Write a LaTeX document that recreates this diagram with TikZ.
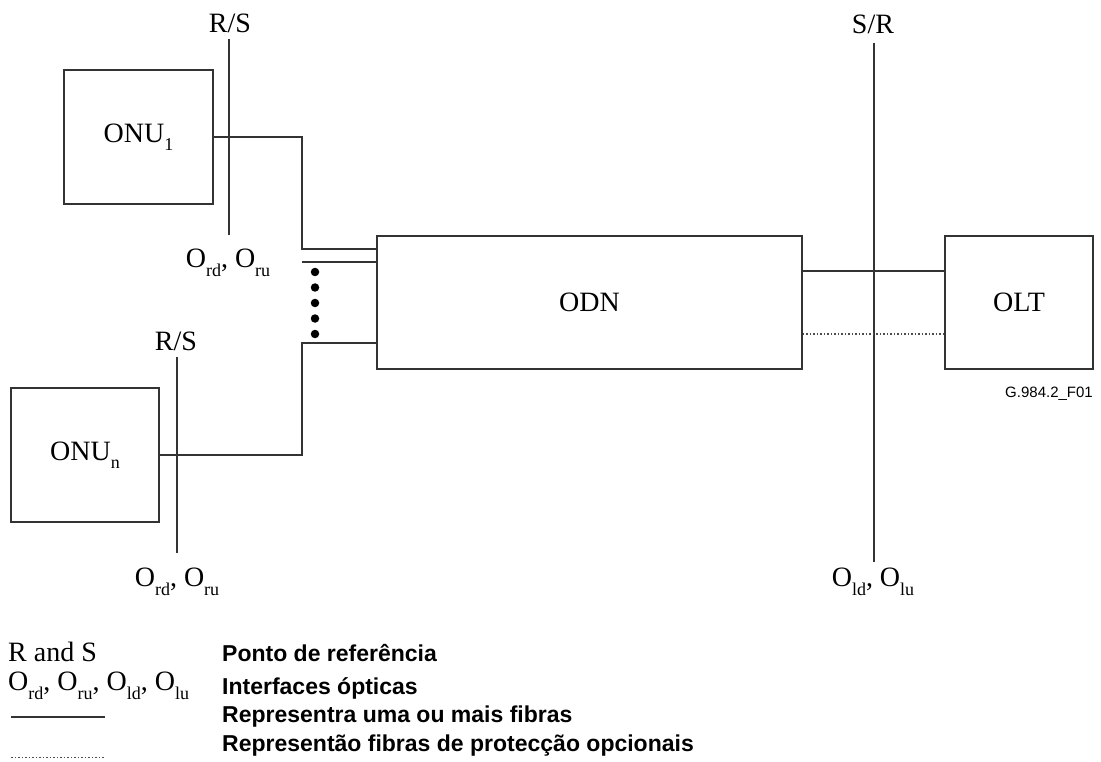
\documentclass[tikz,border=0pt]{standalone}
\usepackage{fontspec}
\setmainfont{Liberation Serif}
\newfontfamily\arialf{Liberation Sans}
\newcommand{\sbs}[1]{\raisebox{-0.3em}{\fontsize{18}{18}\selectfont #1}}
\tikzset{
  ln/.style={draw=black!80, line width=1.4pt},
  dotl/.style={draw=black!70, line width=1.3pt, dash pattern=on 1.6pt off 1.9pt},
  boxn/.style={ln, rectangle, inner sep=0pt, font=\fontsize{28}{28}\selectfont},
  lbl/.style={font=\fontsize{28}{28}\selectfont, inner sep=0pt},
  leg/.style={font=\arialf\bfseries\fontsize{23}{23}\selectfont, anchor=west, inner sep=0pt},
  dotn/.style={circle, fill=black, inner sep=0pt, minimum size=8.5pt}
}
\begin{document}
\begin{tikzpicture}[x=1pt,y=-1pt]
\useasboundingbox[fill=white] (0,0) rectangle (1101,762);
% boxes
\node[boxn, minimum width=149pt, minimum height=134pt] (onu1) at (138.5,137) {ONU\sbs{1}};
\node[boxn, minimum width=148pt, minimum height=134pt] (onun) at (85,455) {ONU\sbs{n}};
\node[boxn, minimum width=425pt, minimum height=133pt] (odn) at (589.5,302.5) {ODN};
\node[boxn, minimum width=148pt, minimum height=133pt] (olt) at (1019,302.5) {OLT};
% reference lines
\coordinate (rs1t) at (229,39);
\coordinate (rs1b) at (229,235);
\coordinate (rs2t) at (177,357);
\coordinate (rs2b) at (177,553);
\coordinate (srt) at (874,43);
\coordinate (srb) at (874,562);
\draw[ln] (rs1t) -- (rs1b);
\draw[ln] (rs2t) -- (rs2b);
\draw[ln] (srt) -- (srb);
\node[lbl] (lrs1) at (230,23) {R/S};
\node[lbl] (lrs2) at (176,341) {R/S};
\node[lbl] (lsr) at (873,24) {S/R};
\node[lbl] (lo1) at (228,263) {O\sbs{rd}, O\sbs{ru}};
\node[lbl] (lo2) at (177,582) {O\sbs{rd}, O\sbs{ru}};
\node[lbl] (lo3) at (873,582) {O\sbs{ld}, O\sbs{lu}};
% fibres ONU side
\coordinate (j1) at (302,137);
\coordinate (j2) at (302,249);
\coordinate (j3) at (302,262);
\coordinate (j4) at (302,343);
\coordinate (j5) at (302,455);
\draw[ln] (onu1.east |- j1) -- (j1) -- (j2) -- (odn.west |- j2);
\draw[ln] (j3) -- (odn.west |- j3);
\draw[ln] (onun.east |- j5) -- (j5) -- (j4) -- (odn.west |- j4);
\foreach \i/\yy in {1/272,2/287.5,3/303,4/318.5,5/334} \node[dotn] (d\i) at (315,\yy) {};
% OLT side
\draw[ln] (odn.east |- 0,271) -- (olt.west |- 0,271);
\draw[dotl] (odn.east |- 0,334) -- (olt.west |- 0,334);
\node[font=\arialf\fontsize{15}{15}\selectfont, anchor=east, inner sep=0pt] (fig) at (1093,394) {G.984.2\_F01};
% legend
\node[lbl, anchor=west] (k1) at (8,652) {R and S};
\node[lbl, anchor=west] (k2) at (8,686) {O\sbs{rd}, O\sbs{ru}, O\sbs{ld}, O\sbs{lu}};
\coordinate (k3a) at (11,717);
\coordinate (k3b) at (105,717);
\draw[ln] (k3a) -- (k3b);
\coordinate (k4a) at (11,757);
\coordinate (k4b) at (105,757);
\draw[dotl, line width=1pt] (k4a) -- (k4b);
\node[leg] (t1) at (222,653) {Ponto de referência};
\node[leg] (t2) at (222,688) {Interfaces ópticas};
\node[leg] (t3) at (222,717) {Representra uma ou mais fibras};
\node[leg] (t4) at (222,746) {Representão fibras de protecção opcionais};
\end{tikzpicture}
\end{document}
